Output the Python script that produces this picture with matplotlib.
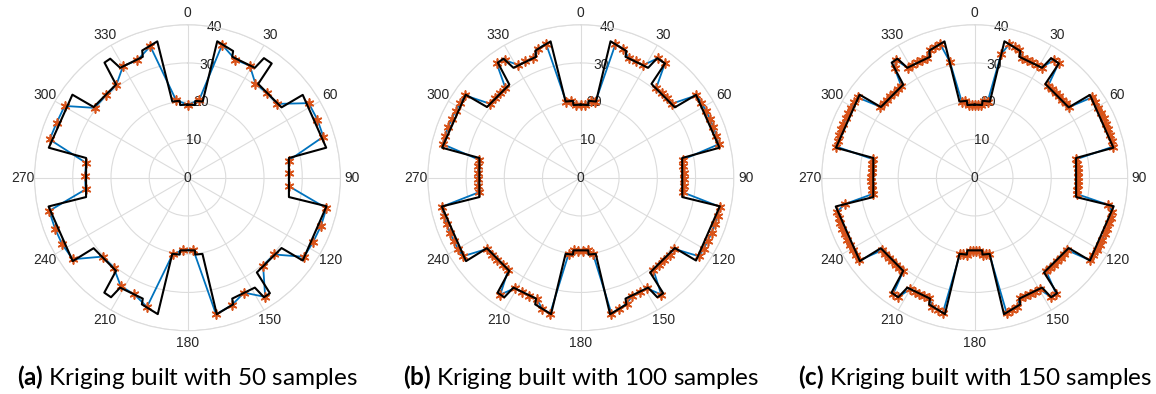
import numpy as np
import matplotlib
matplotlib.use("Agg")
import matplotlib.pyplot as plt

# true (reference) profile: corners of the black outline, degrees / radius
true_theta = [0, 5.8, 5.8, 11.3, 12.3, 19.8, 20.3, 31.5, 32.6, 36.4, 37.0, 53.2, 54.3, 77.8, 79.0,
              100.8, 101.6, 125.7, 126.8, 143.8, 144.5, 147.4, 148.5, 159.7, 160.2, 167.9, 168.9, 174.2, 174.2,
              185.8, 185.8, 191.3, 192.3, 199.8, 200.3, 211.5, 212.6, 215.9, 217.5, 233.1, 234.0, 258.3, 259.2,
              281.0, 282.2, 305.8, 307.0, 322.5, 324.2, 327.0, 328.5, 339.7, 340.4, 347.5, 348.7, 354.2, 354.2, 360]
true_r = [19.1, 19.1, 20.2, 20.3, 36.5, 35.2, 33.7, 33.7, 37.1, 37.1, 30.7, 30.7, 37.1, 37.1, 27.0,
          27.0, 37.1, 37.1, 30.7, 30.7, 37.1, 37.1, 33.7, 33.7, 35.2, 36.5, 20.3, 20.2, 19.1,
          19.1, 20.2, 20.3, 36.5, 35.2, 33.7, 33.7, 37.1, 37.1, 30.7, 30.7, 37.1, 37.1, 27.0,
          27.0, 37.1, 37.1, 30.7, 30.7, 37.1, 37.1, 33.7, 33.7, 35.3, 36.5, 20.3, 20.2, 19.1, 19.1]

# samples, 50
s50_theta = [0.1, 8.5, 14.6, 22.1, 29.1, 35.9, 43.3, 50.6, 58.4, 65.9, 73.2, 80.4, 87.6, 94.8,
             102.4, 109.8, 117.0, 124.2, 131.5, 139.3, 146.9, 153.8, 160.9, 168.2, 175.4, 183.3,
             191.0, 197.4, 204.6, 211.6, 219.4, 227.1, 234.6, 242.1, 249.0, 256.5, 263.5, 270.8,
             278.3, 285.5, 292.8, 300.3, 306.9, 315.4, 322.3, 330.0, 336.9, 344.2, 351.6]
s50_r = [19.1, 20.5, 35.9, 33.3, 33.5, 30.3, 30.4, 30.4, 37.2, 37.2, 37.1, 26.8, 26.6, 26.6,
         37.2, 37.1, 36.9, 36.8, 30.3, 30.3, 37.2, 33.5, 35.3, 36.5, 18.9, 18.9,
         20.4, 35.4, 33.5, 33.3, 30.4, 30.3, 36.8, 37.1, 37.1, 37.2, 26.8, 26.8,
         26.8, 37.4, 37.1, 37.2, 30.4, 30.3, 30.5, 33.7, 33.4, 35.7, 20.5]

# samples, 100
s100_theta = [0.00, 3.64, 7.27, 10.91, 14.55, 18.18, 21.82, 25.45, 29.09, 32.73, 36.36, 40.00,
              43.64, 47.27, 50.91, 54.55, 58.18, 61.82, 65.45, 69.09, 72.73, 76.36, 80.00, 83.64,
              87.27, 90.91, 94.55, 98.18, 101.82, 105.45, 109.09, 112.73, 116.36, 120.00, 123.64,
              127.27, 130.91, 134.55, 138.18, 141.82, 145.45, 149.09, 152.73, 156.36, 160.00,
              163.64, 167.27, 170.91, 174.55, 178.18, 181.82, 185.45, 189.09, 192.73, 196.36,
              200.00, 203.64, 207.27, 210.91, 214.55, 218.18, 221.82, 225.45, 229.09, 232.73,
              236.36, 240.00, 243.64, 247.27, 250.91, 254.55, 258.18, 261.82, 265.45, 269.09,
              272.73, 276.36, 280.00, 283.64, 287.27, 290.91, 294.55, 298.18, 301.82, 305.45,
              309.09, 312.73, 316.36, 320.00, 323.64, 327.27, 330.91, 334.55, 338.18, 341.82,
              345.45, 349.09, 352.73, 356.36]
s100_r = [19.1, 19.1, 20.2, 20.2, 36.1, 35.5, 33.7, 33.7, 33.7, 37.1, 37.1, 30.7,
          30.7, 30.7, 30.7, 37.1, 37.1, 37.1, 37.1, 37.1, 37.1, 37.1, 27.0, 27.0,
          27.0, 27.0, 27.0, 27.0, 37.1, 37.1, 37.1, 37.1, 37.1, 37.1, 37.1,
          30.7, 30.7, 30.7, 30.7, 30.7, 37.1, 33.7, 33.7, 33.7, 35.0,
          35.8, 36.4, 20.2, 19.1, 19.1, 19.1, 19.1, 20.2, 36.4, 35.8,
          33.7, 33.7, 33.7, 33.7, 37.1, 30.7, 30.7, 30.7, 30.7, 30.7,
          37.1, 37.1, 37.1, 37.1, 37.1, 37.1, 37.1, 27.0, 27.0, 27.0,
          27.0, 27.0, 27.0, 37.1, 37.1, 37.1, 37.1, 37.1, 37.1, 37.1,
          30.7, 30.7, 30.7, 30.7, 37.1, 36.5, 33.7, 33.7, 33.7, 35.5,
          36.2, 20.2, 20.2, 19.1]

# samples, 150
s150_theta = [0.00, 2.42, 4.83, 7.25, 9.66, 12.08, 14.50, 16.91, 19.33, 21.74, 24.16, 26.58,
              28.99, 31.41, 33.83, 36.24, 38.66, 41.07, 43.49, 45.91, 48.32, 50.74, 53.15, 55.57,
              57.99, 60.40, 62.82, 65.23, 67.65, 70.07, 72.48, 74.90, 77.32, 79.73, 82.15, 84.56,
              86.98, 89.40, 91.81, 94.23, 96.64, 99.06, 101.48, 103.89, 106.31, 108.72, 111.14,
              113.56, 115.97, 118.39, 120.81, 123.22, 125.64, 128.05, 130.47, 132.89, 135.30,
              137.72, 140.13, 142.55, 144.97, 147.38, 149.80, 152.21, 154.63, 157.05, 159.46,
              161.88, 164.30, 166.71, 169.13, 171.54, 173.96, 176.38, 178.79, 181.21, 183.62,
              186.04, 188.46, 190.87, 193.29, 195.70, 198.12, 200.54, 202.95, 205.37, 207.79,
              210.20, 212.62, 215.03, 217.45, 219.87, 222.28, 224.70, 227.11, 229.53, 231.95,
              234.36, 236.78, 239.19, 241.61, 244.03, 246.44, 248.86, 251.28, 253.69, 256.11,
              258.52, 260.94, 263.36, 265.77, 268.19, 270.60, 273.02, 275.44, 277.85, 280.27,
              282.68, 285.10, 287.52, 289.93, 292.35, 294.77, 297.18, 299.60, 302.01, 304.43,
              306.85, 309.26, 311.68, 314.09, 316.51, 318.93, 321.34, 323.76, 326.17, 328.59,
              331.01, 333.42, 335.84, 338.26, 340.67, 343.09, 345.50, 347.92, 350.34, 352.75,
              355.17, 357.58]
s150_r = [19.1, 19.1, 19.1, 20.2, 20.2, 33.0, 36.1, 35.8, 35.3, 33.7, 33.7, 33.7,
          33.7, 33.7, 37.1, 37.1, 30.7, 30.7, 30.7, 30.7, 30.7, 30.7, 30.7, 37.1,
          37.1, 37.1, 37.1, 37.1, 37.1, 37.1, 37.1, 37.1, 37.1, 27.0, 27.0, 27.0,
          27.0, 27.0, 27.0, 27.0, 27.0, 27.0, 35.6, 37.1, 37.1, 37.1, 37.1,
          37.1, 37.1, 37.1, 37.1, 37.1, 37.1, 30.7, 30.7, 30.7, 30.7,
          30.7, 30.7, 30.7, 37.1, 37.1, 33.7, 33.7, 33.7, 33.7, 33.7,
          35.5, 35.9, 36.3, 20.2, 20.2, 20.2, 19.1, 19.1, 19.1, 19.1,
          20.2, 20.2, 20.2, 36.3, 35.9, 35.5, 33.7, 33.7, 33.7, 33.7,
          33.7, 37.1, 37.1, 30.7, 30.7, 30.7, 30.7, 30.7, 30.7, 30.7,
          37.1, 37.1, 37.1, 37.1, 37.1, 37.1, 37.1, 37.1, 37.1, 37.1,
          34.6, 27.0, 27.0, 27.0, 27.0, 27.0, 27.0, 27.0, 27.0, 27.0,
          37.1, 37.1, 37.1, 37.1, 37.1, 37.1, 37.1, 37.1, 37.1, 37.1,
          31.0, 30.7, 30.7, 30.7, 30.7, 30.7, 30.7, 35.4, 37.1, 33.7,
          33.7, 33.7, 33.7, 33.7, 35.3, 35.7, 36.1, 31.0, 20.2, 20.2,
          19.1, 19.1]

captions = ["(a)", "(b)", "(c)"]
n_samples = [50, 100, 150]
samples = [(s50_theta, s50_r), (s100_theta, s100_r), (s150_theta, s150_r)]

plt.rcParams['font.family'] = ['Liberation Sans', 'DejaVu Sans']
plt.rcParams['mathtext.fontset'] = 'custom'
plt.rcParams['mathtext.bf'] = 'Lato:bold'

fig = plt.figure(figsize=(11.56, 3.94), dpi=100)
W, H = 1156.0, 394.0
R = 153.0
centers = [187.5, 580.8, 974.7]
cy = 177.7

grid_col = '#dcdcdc'
txt_col = '#262626'

for i in range(3):
    cx = centers[i]
    ax = fig.add_axes([(cx - R) / W, (H - cy - R) / H, 2 * R / W, 2 * R / H], projection='polar')
    ax.set_theta_zero_location('N')
    ax.set_theta_direction(-1)

    th, rr = samples[i]
    th = np.radians(th)
    rr = np.asarray(rr)
    # kriging prediction through the samples (closed)
    ax.plot(np.append(th, th[0]), np.append(rr, rr[0]), color='#0072BD', lw=1.3, zorder=3)
    ax.plot(th, rr, ls='none', marker=(6, 2, 0), ms=7, mew=1.2, color='#D95319', zorder=4)
    ax.plot(np.radians(true_theta), true_r, color='black', lw=1.5, zorder=5)

    ax.set_ylim(0, 40)
    ax.set_yticks([0, 10, 20, 30, 40])
    ax.set_yticklabels([])
    ax.set_thetagrids(range(0, 360, 30), [str(a) for a in range(0, 360, 30)],
                      color=txt_col, fontsize=10)
    ax.tick_params(axis='x', pad=-2)
    ax.grid(True, color=grid_col, lw=0.8)
    ax.spines['polar'].set_color(grid_col)
    ax.spines['polar'].set_linewidth(0.8)
    for rv in [0, 10, 20, 30, 40]:
        ax.text(np.radians(10), rv, str(rv), ha='center', va='center',
                color=txt_col, fontsize=10, zorder=2)

    fig.text(cx / W, 1 - 377 / H, r"$\bf{" + captions[i] + r"}$ Kriging built with "
             + str(n_samples[i]) + " samples", ha='center', va='center',
             fontsize=17.5, family='Lato')

fig.savefig("out.png", dpi=100)
